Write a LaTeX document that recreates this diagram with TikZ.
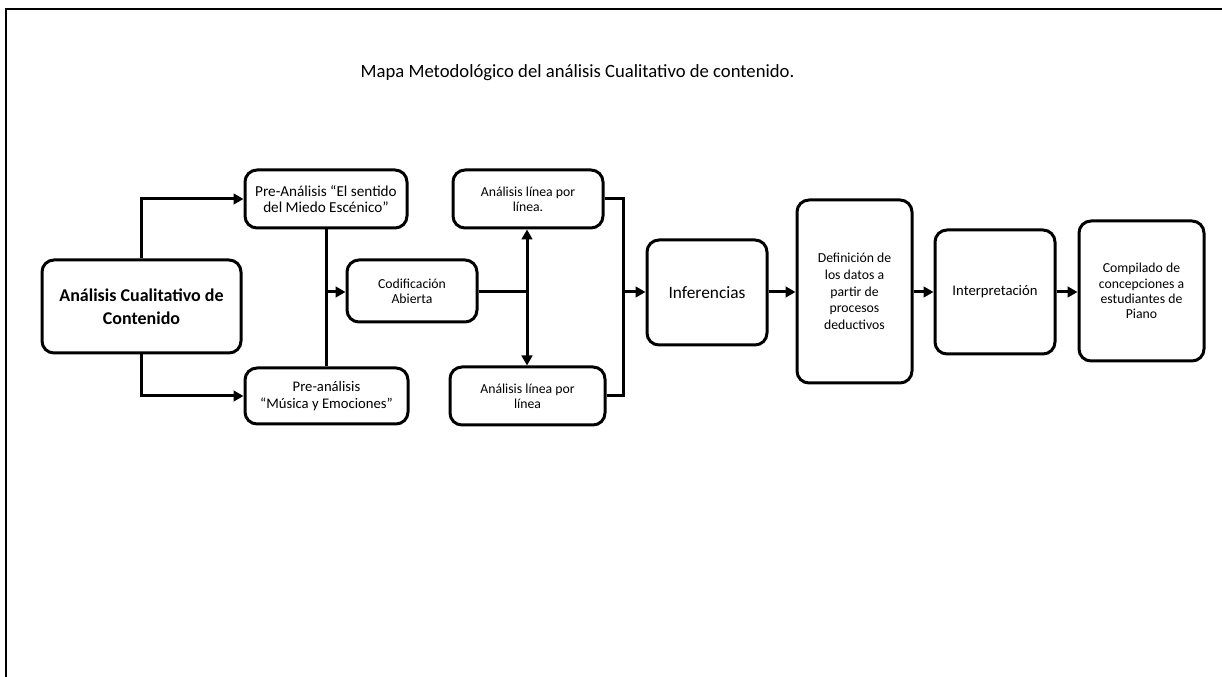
\documentclass[tikz,border=0pt]{standalone}
\usepackage{fontspec}
\setmainfont{Carlito}
\usetikzlibrary{arrows.meta}
\begin{document}
\begin{tikzpicture}[x=0.75pt,y=-0.75pt,
  box/.style={draw,line width=2.25pt,rounded corners=9pt,align=center,inner sep=2pt,
    font=\fontsize{10.3}{11.5}\selectfont},
  conn/.style={line width=2.25pt},
  arr/.style={line width=2.25pt,-{Triangle[length=7.5pt,width=8pt]}}]
\useasboundingbox (0,0) rectangle (1222,677);
\draw[line width=1.5pt] (6,677) -- (6,9) -- (1222,9);
\node[anchor=base west,font=\fontsize{14}{16}\selectfont] (title) at (356,78)
  {Mapa Metodológico del análisis Cualitativo de contenido.};
\node[box,minimum width=199*0.75pt,minimum height=93*0.75pt,font=\fontsize{13.5}{17}\selectfont\bfseries]
  (main) at (141.5,306.5) {Análisis Cualitativo de\\Contenido};
\node[box,minimum width=162*0.75pt,minimum height=58*0.75pt,font=\fontsize{11.4}{12.5}\selectfont] (preA) at (326,199)
  {Pre-Análisis “El sentido\\del Miedo Escénico”};
\node[box,minimum width=163*0.75pt,minimum height=56*0.75pt,font=\fontsize{11}{12.5}\selectfont] (preB) at (326.5,396)
  {Pre-análisis\\“Música y Emociones”};
\node[box,minimum width=130*0.75pt,minimum height=62*0.75pt] (cod) at (412,291)
  {Codificación\\Abierta};
\node[box,minimum width=150*0.75pt,minimum height=58*0.75pt] (alA) at (528,199)
  {Análisis línea por\\línea.};
\node[box,minimum width=155*0.75pt,minimum height=58*0.75pt] (alB) at (527.5,396)
  {Análisis línea por\\línea};
\node[box,minimum width=120*0.75pt,minimum height=105*0.75pt,font=\fontsize{13}{15}\selectfont]
  (inf) at (707,292.5) {Inferencias};
\node[box,minimum width=115*0.75pt,minimum height=183*0.75pt,font=\fontsize{10.3}{12.5}\selectfont] (def) at (854.5,291.5)
  {\raisebox{0pt}[\height][0pt]{}Definición de\\los datos a\\partir de\\procesos\\deductivos};
\node[box,minimum width=120*0.75pt,minimum height=124*0.75pt,font=\fontsize{11}{13}\selectfont]
  (int) at (995,292) {Interpretación};
\node[box,minimum width=125*0.75pt,minimum height=140*0.75pt] (comp) at (1141.5,291)
  {Compilado de\\concepciones a\\estudiantes de\\Piano};
\coordinate (j1) at (326,292);
\coordinate (j2) at (527,292);
\coordinate (j3) at (623,292);
\draw[arr] (main.north) |- (preA.west);
\draw[arr] (main.south) |- (preB.west);
\draw[conn] (preA.south -| j1) -- (preB.north -| j1);
\draw[arr] (j1) -- (cod.west |- j1);
\draw[conn] (cod.east |- j2) -- (j2);
\draw[arr] (j2) -- (alA.south -| j2);
\draw[arr] (j2) -- (alB.north -| j2);
\draw[conn] (alA.east) -| (j3) |- (alB.east);
\draw[arr] (j3) -- (inf.west |- j3);
\draw[arr] (inf.east |- j3) -- (def.west |- j3);
\draw[arr] (def.east |- j3) -- (int.west |- j3);
\draw[arr] (int.east |- j3) -- (comp.west |- j3);
\end{tikzpicture}
\end{document}
